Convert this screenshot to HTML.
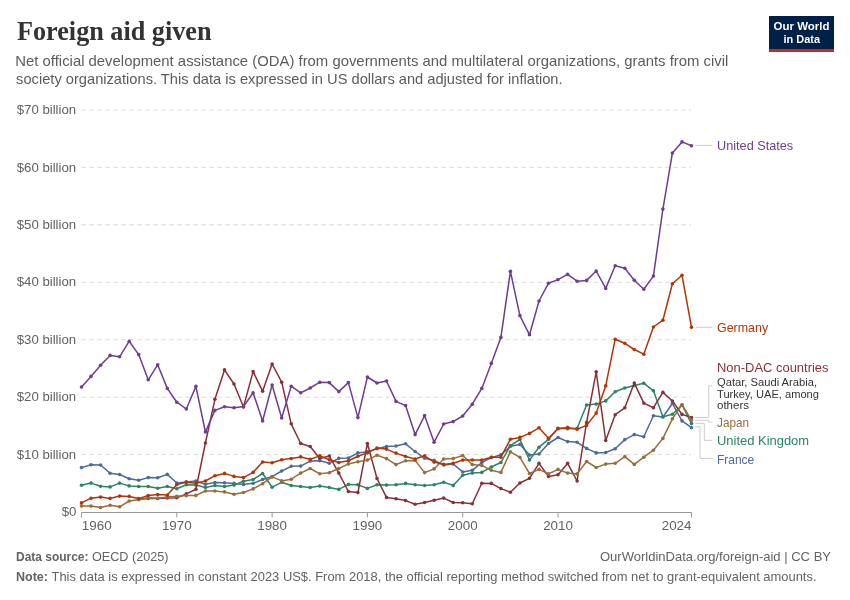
<!DOCTYPE html>
<html lang="en"><head><meta charset="utf-8"><title>Foreign aid given</title>
<style>
html,body{margin:0;padding:0;background:#fff}
body{width:850px;height:600px;overflow:hidden}
svg{display:block}
text{font-family:"Liberation Sans",sans-serif}
.title{font-family:"Liberation Serif",serif;font-weight:700;fill:#333}
.sub{fill:#5c5c5c;font-size:14.5px}
.ax{fill:#626262;font-size:13px}
.ft{fill:#636363;font-size:13px}
.lb{font-size:13px}
.an{font-size:11.7px;fill:#333}
</style></head><body>
<svg width="850" height="600" viewBox="0 0 850 600">
<rect width="850" height="600" fill="#fff"/>
<text class="title" x="17" y="40" font-size="26.5" textLength="194.5" lengthAdjust="spacingAndGlyphs">Foreign aid given</text>
<text class="sub" x="15.3" y="66.2" textLength="713" lengthAdjust="spacingAndGlyphs">Net official development assistance (ODA) from governments and multilateral organizations, grants from civil</text>
<text class="sub" x="16.1" y="84" textLength="546.5" lengthAdjust="spacingAndGlyphs">society organizations. This data is expressed in US dollars and adjusted for inflation.</text>
<g><rect x="769" y="16" width="65" height="36" fill="#002147"/><rect x="769" y="49" width="65" height="3" fill="#CE261E"/><text x="801.5" y="30.2" text-anchor="middle" font-size="11" font-weight="700" fill="#fff" textLength="55.8" lengthAdjust="spacingAndGlyphs">Our World</text><text x="801.8" y="42.5" text-anchor="middle" font-size="11" font-weight="700" fill="#fff" textLength="36.5" lengthAdjust="spacingAndGlyphs">in Data</text></g>
<line x1="81.5" x2="691" y1="454.64" y2="454.64" stroke="#d9d9d9" stroke-width="1" stroke-dasharray="4.2,3.8"/>
<text class="ax" x="76.2" y="458.84" text-anchor="end" textLength="59.5" lengthAdjust="spacingAndGlyphs">$10 billion</text>
<line x1="81.5" x2="691" y1="397.18" y2="397.18" stroke="#d9d9d9" stroke-width="1" stroke-dasharray="4.2,3.8"/>
<text class="ax" x="76.2" y="401.38" text-anchor="end" textLength="59.5" lengthAdjust="spacingAndGlyphs">$20 billion</text>
<line x1="81.5" x2="691" y1="339.72" y2="339.72" stroke="#d9d9d9" stroke-width="1" stroke-dasharray="4.2,3.8"/>
<text class="ax" x="76.2" y="343.92" text-anchor="end" textLength="59.5" lengthAdjust="spacingAndGlyphs">$30 billion</text>
<line x1="81.5" x2="691" y1="282.26" y2="282.26" stroke="#d9d9d9" stroke-width="1" stroke-dasharray="4.2,3.8"/>
<text class="ax" x="76.2" y="286.46" text-anchor="end" textLength="59.5" lengthAdjust="spacingAndGlyphs">$40 billion</text>
<line x1="81.5" x2="691" y1="224.80" y2="224.80" stroke="#d9d9d9" stroke-width="1" stroke-dasharray="4.2,3.8"/>
<text class="ax" x="76.2" y="229.00" text-anchor="end" textLength="59.5" lengthAdjust="spacingAndGlyphs">$50 billion</text>
<line x1="81.5" x2="691" y1="167.34" y2="167.34" stroke="#d9d9d9" stroke-width="1" stroke-dasharray="4.2,3.8"/>
<text class="ax" x="76.2" y="171.54" text-anchor="end" textLength="59.5" lengthAdjust="spacingAndGlyphs">$60 billion</text>
<line x1="81.5" x2="691" y1="109.88" y2="109.88" stroke="#d9d9d9" stroke-width="1" stroke-dasharray="4.2,3.8"/>
<text class="ax" x="76.2" y="114.08" text-anchor="end" textLength="59.5" lengthAdjust="spacingAndGlyphs">$70 billion</text>
<text class="ax" x="76.5" y="516.3" text-anchor="end" textLength="14.8" lengthAdjust="spacingAndGlyphs">$0</text>
<line x1="81.5" x2="691.5" y1="512.5" y2="512.5" stroke="#999" stroke-width="1"/>
<line x1="81.50" x2="81.50" y1="512.5" y2="517.4" stroke="#999" stroke-width="1"/>
<text class="ax" x="81.8" y="530.3" textLength="29.8" lengthAdjust="spacingAndGlyphs">1960</text>
<line x1="176.81" x2="176.81" y1="512.5" y2="517.4" stroke="#999" stroke-width="1"/>
<text class="ax" x="176.81" y="530.3" text-anchor="middle" textLength="29.8" lengthAdjust="spacingAndGlyphs">1970</text>
<line x1="272.12" x2="272.12" y1="512.5" y2="517.4" stroke="#999" stroke-width="1"/>
<text class="ax" x="272.12" y="530.3" text-anchor="middle" textLength="29.8" lengthAdjust="spacingAndGlyphs">1980</text>
<line x1="367.43" x2="367.43" y1="512.5" y2="517.4" stroke="#999" stroke-width="1"/>
<text class="ax" x="367.43" y="530.3" text-anchor="middle" textLength="29.8" lengthAdjust="spacingAndGlyphs">1990</text>
<line x1="462.74" x2="462.74" y1="512.5" y2="517.4" stroke="#999" stroke-width="1"/>
<text class="ax" x="462.74" y="530.3" text-anchor="middle" textLength="29.8" lengthAdjust="spacingAndGlyphs">2000</text>
<line x1="558.05" x2="558.05" y1="512.5" y2="517.4" stroke="#999" stroke-width="1"/>
<text class="ax" x="558.05" y="530.3" text-anchor="middle" textLength="29.8" lengthAdjust="spacingAndGlyphs">2010</text>
<line x1="691.48" x2="691.48" y1="512.5" y2="517.4" stroke="#999" stroke-width="1"/>
<text class="ax" x="691.5" y="530.3" text-anchor="end" textLength="29.8" lengthAdjust="spacingAndGlyphs">2024</text>
<g fill="#4C6A9C" stroke="none"><path d="M81.5,467.6 L91.0,464.8 L100.6,465.0 L110.1,473.3 L119.6,474.5 L129.2,478.7 L138.7,480.2 L148.2,477.6 L157.7,477.8 L167.3,474.4 L176.8,483.0 L186.3,481.9 L195.9,481.1 L205.4,484.3 L214.9,482.5 L224.5,482.7 L234.0,483.4 L243.5,484.4 L253.1,483.3 L262.6,479.5 L272.1,476.6 L281.7,471.0 L291.2,466.3 L300.7,466.1 L310.2,461.1 L319.8,460.7 L329.3,463.2 L338.8,458.3 L348.4,458.0 L357.9,452.9 L367.4,451.7 L377.0,448.7 L386.5,446.6 L396.0,446.0 L405.6,443.8 L415.1,451.5 L424.6,458.3 L434.1,460.4 L443.7,464.9 L453.2,463.9 L462.7,472.0 L472.3,470.3 L481.8,462.5 L491.3,457.6 L500.9,454.8 L510.4,446.3 L519.9,444.4 L529.5,455.1 L539.0,454.0 L548.5,443.5 L558.0,437.5 L567.6,441.6 L577.1,442.3 L586.6,448.4 L596.2,452.9 L605.7,452.5 L615.2,448.8 L624.8,439.6 L634.3,434.6 L643.8,436.7 L653.4,415.8 L662.9,417.0 L672.4,403.5 L682.0,420.9 L691.5,427.7" fill="none" stroke="#4C6A9C" stroke-width="1.5" stroke-linejoin="round" stroke-linecap="round"/><circle cx="81.5" cy="467.6" r="1.8"/><circle cx="91.0" cy="464.8" r="1.8"/><circle cx="100.6" cy="465.0" r="1.8"/><circle cx="110.1" cy="473.3" r="1.8"/><circle cx="119.6" cy="474.5" r="1.8"/><circle cx="129.2" cy="478.7" r="1.8"/><circle cx="138.7" cy="480.2" r="1.8"/><circle cx="148.2" cy="477.6" r="1.8"/><circle cx="157.7" cy="477.8" r="1.8"/><circle cx="167.3" cy="474.4" r="1.8"/><circle cx="176.8" cy="483.0" r="1.8"/><circle cx="186.3" cy="481.9" r="1.8"/><circle cx="195.9" cy="481.1" r="1.8"/><circle cx="205.4" cy="484.3" r="1.8"/><circle cx="214.9" cy="482.5" r="1.8"/><circle cx="224.5" cy="482.7" r="1.8"/><circle cx="234.0" cy="483.4" r="1.8"/><circle cx="243.5" cy="484.4" r="1.8"/><circle cx="253.1" cy="483.3" r="1.8"/><circle cx="262.6" cy="479.5" r="1.8"/><circle cx="272.1" cy="476.6" r="1.8"/><circle cx="281.7" cy="471.0" r="1.8"/><circle cx="291.2" cy="466.3" r="1.8"/><circle cx="300.7" cy="466.1" r="1.8"/><circle cx="310.2" cy="461.1" r="1.8"/><circle cx="319.8" cy="460.7" r="1.8"/><circle cx="329.3" cy="463.2" r="1.8"/><circle cx="338.8" cy="458.3" r="1.8"/><circle cx="348.4" cy="458.0" r="1.8"/><circle cx="357.9" cy="452.9" r="1.8"/><circle cx="367.4" cy="451.7" r="1.8"/><circle cx="377.0" cy="448.7" r="1.8"/><circle cx="386.5" cy="446.6" r="1.8"/><circle cx="396.0" cy="446.0" r="1.8"/><circle cx="405.6" cy="443.8" r="1.8"/><circle cx="415.1" cy="451.5" r="1.8"/><circle cx="424.6" cy="458.3" r="1.8"/><circle cx="434.1" cy="460.4" r="1.8"/><circle cx="443.7" cy="464.9" r="1.8"/><circle cx="453.2" cy="463.9" r="1.8"/><circle cx="462.7" cy="472.0" r="1.8"/><circle cx="472.3" cy="470.3" r="1.8"/><circle cx="481.8" cy="462.5" r="1.8"/><circle cx="491.3" cy="457.6" r="1.8"/><circle cx="500.9" cy="454.8" r="1.8"/><circle cx="510.4" cy="446.3" r="1.8"/><circle cx="519.9" cy="444.4" r="1.8"/><circle cx="529.5" cy="455.1" r="1.8"/><circle cx="539.0" cy="454.0" r="1.8"/><circle cx="548.5" cy="443.5" r="1.8"/><circle cx="558.0" cy="437.5" r="1.8"/><circle cx="567.6" cy="441.6" r="1.8"/><circle cx="577.1" cy="442.3" r="1.8"/><circle cx="586.6" cy="448.4" r="1.8"/><circle cx="596.2" cy="452.9" r="1.8"/><circle cx="605.7" cy="452.5" r="1.8"/><circle cx="615.2" cy="448.8" r="1.8"/><circle cx="624.8" cy="439.6" r="1.8"/><circle cx="634.3" cy="434.6" r="1.8"/><circle cx="643.8" cy="436.7" r="1.8"/><circle cx="653.4" cy="415.8" r="1.8"/><circle cx="662.9" cy="417.0" r="1.8"/><circle cx="672.4" cy="403.5" r="1.8"/><circle cx="682.0" cy="420.9" r="1.8"/><circle cx="691.5" cy="427.7" r="1.8"/></g>
<g fill="#2C8465" stroke="none"><path d="M81.5,485.3 L91.0,483.1 L100.6,486.2 L110.1,486.9 L119.6,483.1 L129.2,485.9 L138.7,486.5 L148.2,486.5 L157.7,488.3 L167.3,486.5 L176.8,488.7 L186.3,484.8 L195.9,485.1 L205.4,487.5 L214.9,485.5 L224.5,486.5 L234.0,485.1 L243.5,481.3 L253.1,479.5 L262.6,473.5 L272.1,487.2 L281.7,482.3 L291.2,485.5 L300.7,486.5 L310.2,487.5 L319.8,486.1 L329.3,487.5 L338.8,489.4 L348.4,484.4 L357.9,484.7 L367.4,488.4 L377.0,484.7 L386.5,485.1 L396.0,484.7 L405.6,483.4 L415.1,484.7 L424.6,485.5 L434.1,484.8 L443.7,482.3 L453.2,485.4 L462.7,475.2 L472.3,473.1 L481.8,472.4 L491.3,467.0 L500.9,462.5 L510.4,445.6 L519.9,439.5 L529.5,460.0 L539.0,447.2 L548.5,439.3 L558.0,428.2 L567.6,428.8 L577.1,428.2 L586.6,405.0 L596.2,404.1 L605.7,400.9 L615.2,391.8 L624.8,388.0 L634.3,385.5 L643.8,383.2 L653.4,390.8 L662.9,416.7 L672.4,414.2 L682.0,405.0 L691.5,423.6" fill="none" stroke="#2C8465" stroke-width="1.5" stroke-linejoin="round" stroke-linecap="round"/><circle cx="81.5" cy="485.3" r="1.8"/><circle cx="91.0" cy="483.1" r="1.8"/><circle cx="100.6" cy="486.2" r="1.8"/><circle cx="110.1" cy="486.9" r="1.8"/><circle cx="119.6" cy="483.1" r="1.8"/><circle cx="129.2" cy="485.9" r="1.8"/><circle cx="138.7" cy="486.5" r="1.8"/><circle cx="148.2" cy="486.5" r="1.8"/><circle cx="157.7" cy="488.3" r="1.8"/><circle cx="167.3" cy="486.5" r="1.8"/><circle cx="176.8" cy="488.7" r="1.8"/><circle cx="186.3" cy="484.8" r="1.8"/><circle cx="195.9" cy="485.1" r="1.8"/><circle cx="205.4" cy="487.5" r="1.8"/><circle cx="214.9" cy="485.5" r="1.8"/><circle cx="224.5" cy="486.5" r="1.8"/><circle cx="234.0" cy="485.1" r="1.8"/><circle cx="243.5" cy="481.3" r="1.8"/><circle cx="253.1" cy="479.5" r="1.8"/><circle cx="262.6" cy="473.5" r="1.8"/><circle cx="272.1" cy="487.2" r="1.8"/><circle cx="281.7" cy="482.3" r="1.8"/><circle cx="291.2" cy="485.5" r="1.8"/><circle cx="300.7" cy="486.5" r="1.8"/><circle cx="310.2" cy="487.5" r="1.8"/><circle cx="319.8" cy="486.1" r="1.8"/><circle cx="329.3" cy="487.5" r="1.8"/><circle cx="338.8" cy="489.4" r="1.8"/><circle cx="348.4" cy="484.4" r="1.8"/><circle cx="357.9" cy="484.7" r="1.8"/><circle cx="367.4" cy="488.4" r="1.8"/><circle cx="377.0" cy="484.7" r="1.8"/><circle cx="386.5" cy="485.1" r="1.8"/><circle cx="396.0" cy="484.7" r="1.8"/><circle cx="405.6" cy="483.4" r="1.8"/><circle cx="415.1" cy="484.7" r="1.8"/><circle cx="424.6" cy="485.5" r="1.8"/><circle cx="434.1" cy="484.8" r="1.8"/><circle cx="443.7" cy="482.3" r="1.8"/><circle cx="453.2" cy="485.4" r="1.8"/><circle cx="462.7" cy="475.2" r="1.8"/><circle cx="472.3" cy="473.1" r="1.8"/><circle cx="481.8" cy="472.4" r="1.8"/><circle cx="491.3" cy="467.0" r="1.8"/><circle cx="500.9" cy="462.5" r="1.8"/><circle cx="510.4" cy="445.6" r="1.8"/><circle cx="519.9" cy="439.5" r="1.8"/><circle cx="529.5" cy="460.0" r="1.8"/><circle cx="539.0" cy="447.2" r="1.8"/><circle cx="548.5" cy="439.3" r="1.8"/><circle cx="558.0" cy="428.2" r="1.8"/><circle cx="567.6" cy="428.8" r="1.8"/><circle cx="577.1" cy="428.2" r="1.8"/><circle cx="586.6" cy="405.0" r="1.8"/><circle cx="596.2" cy="404.1" r="1.8"/><circle cx="605.7" cy="400.9" r="1.8"/><circle cx="615.2" cy="391.8" r="1.8"/><circle cx="624.8" cy="388.0" r="1.8"/><circle cx="634.3" cy="385.5" r="1.8"/><circle cx="643.8" cy="383.2" r="1.8"/><circle cx="653.4" cy="390.8" r="1.8"/><circle cx="662.9" cy="416.7" r="1.8"/><circle cx="672.4" cy="414.2" r="1.8"/><circle cx="682.0" cy="405.0" r="1.8"/><circle cx="691.5" cy="423.6" r="1.8"/></g>
<g fill="#883039" stroke="none"><path d="M138.7,499.5 L148.2,498.5 L157.7,498.5 L167.3,498.0 L176.8,497.7 L186.3,493.9 L195.9,489.3 L205.4,443.0 L214.9,399.3 L224.5,369.9 L234.0,384.0 L243.5,407.0 L253.1,371.6 L262.6,391.2 L272.1,364.0 L281.7,382.2 L291.2,423.8 L300.7,443.5 L310.2,446.5 L319.8,458.5 L329.3,456.0 L338.8,473.1 L348.4,491.5 L357.9,492.6 L367.4,443.5 L377.0,478.5 L386.5,497.4 L396.0,498.8 L405.6,500.6 L415.1,504.2 L424.6,502.5 L434.1,500.2 L443.7,498.1 L453.2,502.5 L462.7,502.8 L472.3,503.8 L481.8,483.3 L491.3,483.4 L500.9,488.6 L510.4,492.2 L519.9,483.0 L529.5,478.3 L539.0,463.4 L548.5,476.5 L558.0,474.7 L567.6,463.4 L577.1,481.0 L586.6,422.5 L596.2,371.8 L605.7,440.5 L615.2,414.7 L624.8,407.8 L634.3,383.1 L643.8,403.1 L653.4,407.7 L662.9,392.4 L672.4,401.0 L682.0,414.4 L691.5,417.5" fill="none" stroke="#883039" stroke-width="1.5" stroke-linejoin="round" stroke-linecap="round"/><circle cx="138.7" cy="499.5" r="1.8"/><circle cx="148.2" cy="498.5" r="1.8"/><circle cx="157.7" cy="498.5" r="1.8"/><circle cx="167.3" cy="498.0" r="1.8"/><circle cx="176.8" cy="497.7" r="1.8"/><circle cx="186.3" cy="493.9" r="1.8"/><circle cx="195.9" cy="489.3" r="1.8"/><circle cx="205.4" cy="443.0" r="1.8"/><circle cx="214.9" cy="399.3" r="1.8"/><circle cx="224.5" cy="369.9" r="1.8"/><circle cx="234.0" cy="384.0" r="1.8"/><circle cx="243.5" cy="407.0" r="1.8"/><circle cx="253.1" cy="371.6" r="1.8"/><circle cx="262.6" cy="391.2" r="1.8"/><circle cx="272.1" cy="364.0" r="1.8"/><circle cx="281.7" cy="382.2" r="1.8"/><circle cx="291.2" cy="423.8" r="1.8"/><circle cx="300.7" cy="443.5" r="1.8"/><circle cx="310.2" cy="446.5" r="1.8"/><circle cx="319.8" cy="458.5" r="1.8"/><circle cx="329.3" cy="456.0" r="1.8"/><circle cx="338.8" cy="473.1" r="1.8"/><circle cx="348.4" cy="491.5" r="1.8"/><circle cx="357.9" cy="492.6" r="1.8"/><circle cx="367.4" cy="443.5" r="1.8"/><circle cx="377.0" cy="478.5" r="1.8"/><circle cx="386.5" cy="497.4" r="1.8"/><circle cx="396.0" cy="498.8" r="1.8"/><circle cx="405.6" cy="500.6" r="1.8"/><circle cx="415.1" cy="504.2" r="1.8"/><circle cx="424.6" cy="502.5" r="1.8"/><circle cx="434.1" cy="500.2" r="1.8"/><circle cx="443.7" cy="498.1" r="1.8"/><circle cx="453.2" cy="502.5" r="1.8"/><circle cx="462.7" cy="502.8" r="1.8"/><circle cx="472.3" cy="503.8" r="1.8"/><circle cx="481.8" cy="483.3" r="1.8"/><circle cx="491.3" cy="483.4" r="1.8"/><circle cx="500.9" cy="488.6" r="1.8"/><circle cx="510.4" cy="492.2" r="1.8"/><circle cx="519.9" cy="483.0" r="1.8"/><circle cx="529.5" cy="478.3" r="1.8"/><circle cx="539.0" cy="463.4" r="1.8"/><circle cx="548.5" cy="476.5" r="1.8"/><circle cx="558.0" cy="474.7" r="1.8"/><circle cx="567.6" cy="463.4" r="1.8"/><circle cx="577.1" cy="481.0" r="1.8"/><circle cx="586.6" cy="422.5" r="1.8"/><circle cx="596.2" cy="371.8" r="1.8"/><circle cx="605.7" cy="440.5" r="1.8"/><circle cx="615.2" cy="414.7" r="1.8"/><circle cx="624.8" cy="407.8" r="1.8"/><circle cx="634.3" cy="383.1" r="1.8"/><circle cx="643.8" cy="403.1" r="1.8"/><circle cx="653.4" cy="407.7" r="1.8"/><circle cx="662.9" cy="392.4" r="1.8"/><circle cx="672.4" cy="401.0" r="1.8"/><circle cx="682.0" cy="414.4" r="1.8"/><circle cx="691.5" cy="417.5" r="1.8"/></g>
<g fill="#996D39" stroke="none"><path d="M81.5,506.0 L91.0,506.1 L100.6,507.5 L110.1,505.2 L119.6,506.8 L129.2,501.0 L138.7,499.5 L148.2,497.8 L157.7,498.2 L167.3,497.0 L176.8,496.2 L186.3,495.6 L195.9,495.4 L205.4,491.0 L214.9,491.0 L224.5,491.9 L234.0,494.3 L243.5,492.5 L253.1,488.9 L262.6,483.7 L272.1,476.9 L281.7,480.9 L291.2,479.2 L300.7,473.1 L310.2,468.5 L319.8,473.8 L329.3,472.7 L338.8,468.5 L348.4,463.9 L357.9,461.8 L367.4,460.1 L377.0,455.2 L386.5,458.6 L396.0,464.6 L405.6,460.8 L415.1,460.4 L424.6,472.6 L434.1,468.9 L443.7,459.0 L453.2,458.6 L462.7,455.5 L472.3,464.6 L481.8,465.4 L491.3,470.3 L500.9,472.4 L510.4,451.9 L519.9,457.3 L529.5,473.5 L539.0,469.4 L548.5,473.9 L558.0,469.4 L567.6,473.1 L577.1,473.9 L586.6,461.5 L596.2,467.5 L605.7,464.1 L615.2,463.3 L624.8,456.6 L634.3,464.4 L643.8,457.2 L653.4,450.2 L662.9,438.4 L672.4,418.8 L682.0,404.7 L691.5,420.2" fill="none" stroke="#996D39" stroke-width="1.5" stroke-linejoin="round" stroke-linecap="round"/><circle cx="81.5" cy="506.0" r="1.8"/><circle cx="91.0" cy="506.1" r="1.8"/><circle cx="100.6" cy="507.5" r="1.8"/><circle cx="110.1" cy="505.2" r="1.8"/><circle cx="119.6" cy="506.8" r="1.8"/><circle cx="129.2" cy="501.0" r="1.8"/><circle cx="138.7" cy="499.5" r="1.8"/><circle cx="148.2" cy="497.8" r="1.8"/><circle cx="157.7" cy="498.2" r="1.8"/><circle cx="167.3" cy="497.0" r="1.8"/><circle cx="176.8" cy="496.2" r="1.8"/><circle cx="186.3" cy="495.6" r="1.8"/><circle cx="195.9" cy="495.4" r="1.8"/><circle cx="205.4" cy="491.0" r="1.8"/><circle cx="214.9" cy="491.0" r="1.8"/><circle cx="224.5" cy="491.9" r="1.8"/><circle cx="234.0" cy="494.3" r="1.8"/><circle cx="243.5" cy="492.5" r="1.8"/><circle cx="253.1" cy="488.9" r="1.8"/><circle cx="262.6" cy="483.7" r="1.8"/><circle cx="272.1" cy="476.9" r="1.8"/><circle cx="281.7" cy="480.9" r="1.8"/><circle cx="291.2" cy="479.2" r="1.8"/><circle cx="300.7" cy="473.1" r="1.8"/><circle cx="310.2" cy="468.5" r="1.8"/><circle cx="319.8" cy="473.8" r="1.8"/><circle cx="329.3" cy="472.7" r="1.8"/><circle cx="338.8" cy="468.5" r="1.8"/><circle cx="348.4" cy="463.9" r="1.8"/><circle cx="357.9" cy="461.8" r="1.8"/><circle cx="367.4" cy="460.1" r="1.8"/><circle cx="377.0" cy="455.2" r="1.8"/><circle cx="386.5" cy="458.6" r="1.8"/><circle cx="396.0" cy="464.6" r="1.8"/><circle cx="405.6" cy="460.8" r="1.8"/><circle cx="415.1" cy="460.4" r="1.8"/><circle cx="424.6" cy="472.6" r="1.8"/><circle cx="434.1" cy="468.9" r="1.8"/><circle cx="443.7" cy="459.0" r="1.8"/><circle cx="453.2" cy="458.6" r="1.8"/><circle cx="462.7" cy="455.5" r="1.8"/><circle cx="472.3" cy="464.6" r="1.8"/><circle cx="481.8" cy="465.4" r="1.8"/><circle cx="491.3" cy="470.3" r="1.8"/><circle cx="500.9" cy="472.4" r="1.8"/><circle cx="510.4" cy="451.9" r="1.8"/><circle cx="519.9" cy="457.3" r="1.8"/><circle cx="529.5" cy="473.5" r="1.8"/><circle cx="539.0" cy="469.4" r="1.8"/><circle cx="548.5" cy="473.9" r="1.8"/><circle cx="558.0" cy="469.4" r="1.8"/><circle cx="567.6" cy="473.1" r="1.8"/><circle cx="577.1" cy="473.9" r="1.8"/><circle cx="586.6" cy="461.5" r="1.8"/><circle cx="596.2" cy="467.5" r="1.8"/><circle cx="605.7" cy="464.1" r="1.8"/><circle cx="615.2" cy="463.3" r="1.8"/><circle cx="624.8" cy="456.6" r="1.8"/><circle cx="634.3" cy="464.4" r="1.8"/><circle cx="643.8" cy="457.2" r="1.8"/><circle cx="653.4" cy="450.2" r="1.8"/><circle cx="662.9" cy="438.4" r="1.8"/><circle cx="672.4" cy="418.8" r="1.8"/><circle cx="682.0" cy="404.7" r="1.8"/><circle cx="691.5" cy="420.2" r="1.8"/></g>
<g fill="#B13507" stroke="none"><path d="M81.5,502.9 L91.0,498.2 L100.6,497.1 L110.1,498.4 L119.6,496.1 L129.2,496.4 L138.7,498.6 L148.2,495.5 L157.7,494.6 L167.3,495.0 L176.8,484.6 L186.3,482.3 L195.9,483.3 L205.4,481.0 L214.9,475.7 L224.5,473.4 L234.0,476.4 L243.5,477.6 L253.1,472.4 L262.6,462.0 L272.1,462.8 L281.7,459.7 L291.2,458.6 L300.7,456.9 L310.2,459.3 L319.8,455.9 L329.3,459.7 L338.8,462.5 L348.4,460.8 L357.9,456.2 L367.4,452.9 L377.0,448.1 L386.5,449.1 L396.0,453.1 L405.6,456.5 L415.1,459.0 L424.6,455.8 L434.1,462.1 L443.7,464.4 L453.2,463.2 L462.7,460.1 L472.3,460.0 L481.8,460.0 L491.3,457.3 L500.9,457.2 L510.4,439.2 L519.9,437.4 L529.5,433.4 L539.0,427.8 L548.5,438.2 L558.0,428.8 L567.6,427.4 L577.1,429.2 L586.6,425.4 L596.2,413.1 L605.7,385.9 L615.2,339.2 L624.8,343.3 L634.3,349.5 L643.8,354.2 L653.4,327.0 L662.9,320.2 L672.4,283.7 L682.0,275.2 L691.5,327.3" fill="none" stroke="#B13507" stroke-width="1.5" stroke-linejoin="round" stroke-linecap="round"/><circle cx="81.5" cy="502.9" r="1.8"/><circle cx="91.0" cy="498.2" r="1.8"/><circle cx="100.6" cy="497.1" r="1.8"/><circle cx="110.1" cy="498.4" r="1.8"/><circle cx="119.6" cy="496.1" r="1.8"/><circle cx="129.2" cy="496.4" r="1.8"/><circle cx="138.7" cy="498.6" r="1.8"/><circle cx="148.2" cy="495.5" r="1.8"/><circle cx="157.7" cy="494.6" r="1.8"/><circle cx="167.3" cy="495.0" r="1.8"/><circle cx="176.8" cy="484.6" r="1.8"/><circle cx="186.3" cy="482.3" r="1.8"/><circle cx="195.9" cy="483.3" r="1.8"/><circle cx="205.4" cy="481.0" r="1.8"/><circle cx="214.9" cy="475.7" r="1.8"/><circle cx="224.5" cy="473.4" r="1.8"/><circle cx="234.0" cy="476.4" r="1.8"/><circle cx="243.5" cy="477.6" r="1.8"/><circle cx="253.1" cy="472.4" r="1.8"/><circle cx="262.6" cy="462.0" r="1.8"/><circle cx="272.1" cy="462.8" r="1.8"/><circle cx="281.7" cy="459.7" r="1.8"/><circle cx="291.2" cy="458.6" r="1.8"/><circle cx="300.7" cy="456.9" r="1.8"/><circle cx="310.2" cy="459.3" r="1.8"/><circle cx="319.8" cy="455.9" r="1.8"/><circle cx="329.3" cy="459.7" r="1.8"/><circle cx="338.8" cy="462.5" r="1.8"/><circle cx="348.4" cy="460.8" r="1.8"/><circle cx="357.9" cy="456.2" r="1.8"/><circle cx="367.4" cy="452.9" r="1.8"/><circle cx="377.0" cy="448.1" r="1.8"/><circle cx="386.5" cy="449.1" r="1.8"/><circle cx="396.0" cy="453.1" r="1.8"/><circle cx="405.6" cy="456.5" r="1.8"/><circle cx="415.1" cy="459.0" r="1.8"/><circle cx="424.6" cy="455.8" r="1.8"/><circle cx="434.1" cy="462.1" r="1.8"/><circle cx="443.7" cy="464.4" r="1.8"/><circle cx="453.2" cy="463.2" r="1.8"/><circle cx="462.7" cy="460.1" r="1.8"/><circle cx="472.3" cy="460.0" r="1.8"/><circle cx="481.8" cy="460.0" r="1.8"/><circle cx="491.3" cy="457.3" r="1.8"/><circle cx="500.9" cy="457.2" r="1.8"/><circle cx="510.4" cy="439.2" r="1.8"/><circle cx="519.9" cy="437.4" r="1.8"/><circle cx="529.5" cy="433.4" r="1.8"/><circle cx="539.0" cy="427.8" r="1.8"/><circle cx="548.5" cy="438.2" r="1.8"/><circle cx="558.0" cy="428.8" r="1.8"/><circle cx="567.6" cy="427.4" r="1.8"/><circle cx="577.1" cy="429.2" r="1.8"/><circle cx="586.6" cy="425.4" r="1.8"/><circle cx="596.2" cy="413.1" r="1.8"/><circle cx="605.7" cy="385.9" r="1.8"/><circle cx="615.2" cy="339.2" r="1.8"/><circle cx="624.8" cy="343.3" r="1.8"/><circle cx="634.3" cy="349.5" r="1.8"/><circle cx="643.8" cy="354.2" r="1.8"/><circle cx="653.4" cy="327.0" r="1.8"/><circle cx="662.9" cy="320.2" r="1.8"/><circle cx="672.4" cy="283.7" r="1.8"/><circle cx="682.0" cy="275.2" r="1.8"/><circle cx="691.5" cy="327.3" r="1.8"/></g>
<g fill="#6D3E91" stroke="none"><path d="M81.5,387.0 L91.0,376.4 L100.6,365.2 L110.1,355.4 L119.6,356.8 L129.2,341.2 L138.7,354.6 L148.2,379.8 L157.7,364.8 L167.3,388.4 L176.8,402.2 L186.3,409.0 L195.9,386.4 L205.4,432.0 L214.9,410.4 L224.5,406.8 L234.0,407.8 L243.5,406.6 L253.1,392.8 L262.6,421.0 L272.1,385.0 L281.7,418.0 L291.2,386.2 L300.7,392.8 L310.2,388.0 L319.8,382.2 L329.3,382.6 L338.8,391.6 L348.4,382.6 L357.9,417.6 L367.4,377.0 L377.0,383.0 L386.5,381.0 L396.0,401.4 L405.6,405.6 L415.1,434.6 L424.6,415.6 L434.1,442.2 L443.7,424.0 L453.2,421.6 L462.7,416.0 L472.3,404.2 L481.8,388.4 L491.3,363.4 L500.9,337.4 L510.4,271.4 L519.9,315.6 L529.5,334.8 L539.0,301.0 L548.5,283.2 L558.0,279.6 L567.6,274.4 L577.1,281.2 L586.6,280.4 L596.2,271.0 L605.7,288.4 L615.2,265.8 L624.8,268.2 L634.3,280.2 L643.8,289.2 L653.4,276.1 L662.9,209.1 L672.4,153.0 L682.0,141.9 L691.5,145.7" fill="none" stroke="#6D3E91" stroke-width="1.5" stroke-linejoin="round" stroke-linecap="round"/><circle cx="81.5" cy="387.0" r="1.8"/><circle cx="91.0" cy="376.4" r="1.8"/><circle cx="100.6" cy="365.2" r="1.8"/><circle cx="110.1" cy="355.4" r="1.8"/><circle cx="119.6" cy="356.8" r="1.8"/><circle cx="129.2" cy="341.2" r="1.8"/><circle cx="138.7" cy="354.6" r="1.8"/><circle cx="148.2" cy="379.8" r="1.8"/><circle cx="157.7" cy="364.8" r="1.8"/><circle cx="167.3" cy="388.4" r="1.8"/><circle cx="176.8" cy="402.2" r="1.8"/><circle cx="186.3" cy="409.0" r="1.8"/><circle cx="195.9" cy="386.4" r="1.8"/><circle cx="205.4" cy="432.0" r="1.8"/><circle cx="214.9" cy="410.4" r="1.8"/><circle cx="224.5" cy="406.8" r="1.8"/><circle cx="234.0" cy="407.8" r="1.8"/><circle cx="243.5" cy="406.6" r="1.8"/><circle cx="253.1" cy="392.8" r="1.8"/><circle cx="262.6" cy="421.0" r="1.8"/><circle cx="272.1" cy="385.0" r="1.8"/><circle cx="281.7" cy="418.0" r="1.8"/><circle cx="291.2" cy="386.2" r="1.8"/><circle cx="300.7" cy="392.8" r="1.8"/><circle cx="310.2" cy="388.0" r="1.8"/><circle cx="319.8" cy="382.2" r="1.8"/><circle cx="329.3" cy="382.6" r="1.8"/><circle cx="338.8" cy="391.6" r="1.8"/><circle cx="348.4" cy="382.6" r="1.8"/><circle cx="357.9" cy="417.6" r="1.8"/><circle cx="367.4" cy="377.0" r="1.8"/><circle cx="377.0" cy="383.0" r="1.8"/><circle cx="386.5" cy="381.0" r="1.8"/><circle cx="396.0" cy="401.4" r="1.8"/><circle cx="405.6" cy="405.6" r="1.8"/><circle cx="415.1" cy="434.6" r="1.8"/><circle cx="424.6" cy="415.6" r="1.8"/><circle cx="434.1" cy="442.2" r="1.8"/><circle cx="443.7" cy="424.0" r="1.8"/><circle cx="453.2" cy="421.6" r="1.8"/><circle cx="462.7" cy="416.0" r="1.8"/><circle cx="472.3" cy="404.2" r="1.8"/><circle cx="481.8" cy="388.4" r="1.8"/><circle cx="491.3" cy="363.4" r="1.8"/><circle cx="500.9" cy="337.4" r="1.8"/><circle cx="510.4" cy="271.4" r="1.8"/><circle cx="519.9" cy="315.6" r="1.8"/><circle cx="529.5" cy="334.8" r="1.8"/><circle cx="539.0" cy="301.0" r="1.8"/><circle cx="548.5" cy="283.2" r="1.8"/><circle cx="558.0" cy="279.6" r="1.8"/><circle cx="567.6" cy="274.4" r="1.8"/><circle cx="577.1" cy="281.2" r="1.8"/><circle cx="586.6" cy="280.4" r="1.8"/><circle cx="596.2" cy="271.0" r="1.8"/><circle cx="605.7" cy="288.4" r="1.8"/><circle cx="615.2" cy="265.8" r="1.8"/><circle cx="624.8" cy="268.2" r="1.8"/><circle cx="634.3" cy="280.2" r="1.8"/><circle cx="643.8" cy="289.2" r="1.8"/><circle cx="653.4" cy="276.1" r="1.8"/><circle cx="662.9" cy="209.1" r="1.8"/><circle cx="672.4" cy="153.0" r="1.8"/><circle cx="682.0" cy="141.9" r="1.8"/><circle cx="691.5" cy="145.7" r="1.8"/></g>
<g fill="none" stroke="#ccc" stroke-width="1"><path d="M695.4,145.4 H712.5"/><path d="M695.4,327.3 H712.5"/><path d="M695.4,417.5 H708.7 V385.8 H712.5"/><path d="M695.4,420.2 H708.7 V422 H712.5"/><path d="M695.4,423.3 H704.3 V440.3 H712.5"/><path d="M695.4,426.8 H700 V458.5 H712.5"/></g>
<text class="lb" x="717" y="150" fill="#6D3E91" textLength="76.2" lengthAdjust="spacingAndGlyphs">United States</text>
<text class="lb" x="717" y="331.7" fill="#B13507" textLength="51.1" lengthAdjust="spacingAndGlyphs">Germany</text>
<text class="lb" x="717" y="372.3" fill="#883039" textLength="111.5" lengthAdjust="spacingAndGlyphs">Non-DAC countries</text>
<text class="an" x="717" y="385.8" textLength="100" lengthAdjust="spacingAndGlyphs">Qatar, Saudi Arabia,</text>
<text class="an" x="717" y="397.5" textLength="102" lengthAdjust="spacingAndGlyphs">Turkey, UAE, among</text>
<text class="an" x="717" y="409" textLength="32" lengthAdjust="spacingAndGlyphs">others</text>
<text class="lb" x="717" y="426.5" fill="#996D39" textLength="32.1" lengthAdjust="spacingAndGlyphs">Japan</text>
<text class="lb" x="717" y="444.9" fill="#2C8465" textLength="92.1" lengthAdjust="spacingAndGlyphs">United Kingdom</text>
<text class="lb" x="717" y="463.5" fill="#4C6A9C" textLength="37.1" lengthAdjust="spacingAndGlyphs">France</text>
<text class="ft" x="16" y="560.5"><tspan font-weight="700" textLength="72.5" lengthAdjust="spacingAndGlyphs">Data source:</tspan><tspan dx="3.5" textLength="76.5" lengthAdjust="spacingAndGlyphs">OECD (2025)</tspan></text>
<text class="ft" x="831" y="560.5" text-anchor="end" textLength="231" lengthAdjust="spacingAndGlyphs">OurWorldinData.org/foreign-aid | CC BY</text>
<text class="ft" x="16" y="580.5"><tspan font-weight="700" textLength="32" lengthAdjust="spacingAndGlyphs">Note:</tspan><tspan dx="3.5" textLength="765" lengthAdjust="spacingAndGlyphs">This data is expressed in constant 2023 US$. From 2018, the official reporting method switched from net to grant-equivalent amounts.</tspan></text>
</svg></body></html>
